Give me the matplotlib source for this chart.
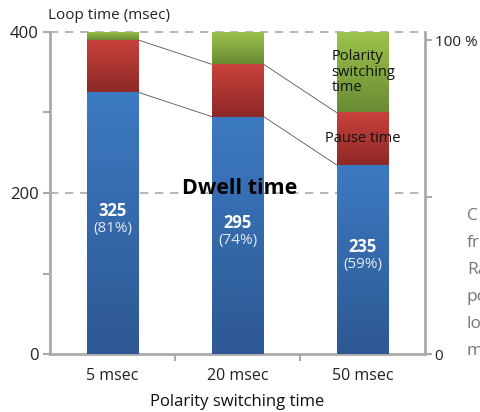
import matplotlib
matplotlib.use("Agg")
import matplotlib.pyplot as plt
import numpy as np
from matplotlib.colors import LinearSegmentedColormap

categories = ["5 msec", "20 msec", "50 msec"]
dwell = [325, 295, 235]
pause = [65, 65, 65]
polarity = [10, 40, 100]
dwell_pct = ["(81%)", "(74%)", "(59%)"]
side_text = ["C", "fr", "Ra", "po", "lo", "m"]

plt.rcParams['font.family'] = ['Open Sans', 'DejaVu Sans']

fig = plt.figure(figsize=(4.8, 4.12), dpi=100)
ax = fig.add_axes([50/480, (412-354)/412, 375/480, 322/412])
x = np.arange(len(categories))
w = 0.416
bottoms2 = [d + p for d, p in zip(dwell, pause)]

grads = [("#3c7ac2", "#2d5893"), ("#ca413c", "#8c2926"), ("#9dc44c", "#698b34")]
series = [(dwell, [0]*3), (pause, dwell), (polarity, bottoms2)]
for (vals, bots), (ctop, cbot) in zip(series, grads):
    bars = ax.bar(x, vals, w, bottom=bots, color="none", edgecolor="none", zorder=3)
    cmap = LinearSegmentedColormap.from_list("g", [cbot, ctop])
    grad = np.linspace(0, 1, 256).reshape(-1, 1)
    for b in bars:
        x0, y0, bw, bh = b.get_x(), b.get_y(), b.get_width(), b.get_height()
        ax.imshow(grad, cmap=cmap, origin="lower", aspect="auto",
                  extent=[x0, x0 + bw, y0, y0 + bh], zorder=3, interpolation="bilinear")

# series lines
for i in range(len(x) - 1):
    for vals in (dwell, bottoms2):
        ax.plot([x[i] + w/2, x[i+1] - w/2], [vals[i], vals[i+1]], color="#555555", lw=0.6, zorder=2)

ax.set_xlim(-0.5, 2.5)
ax.set_ylim(0, 400)
ax.set_yticks([0, 200, 400])
ax.set_yticks([100, 300], minor=True)
ax.set_yticklabels(["0", "200", "400"], fontsize=12, color="#222222")
ax.set_xticks(x)
ax.set_xticklabels(categories, fontsize=11.5, color="#222222")
ax.set_xticks([0.5, 1.5], minor=True)
ax.tick_params(axis="x", which="major", length=0, pad=10)
ax.tick_params(axis="x", which="minor", length=5, width=1.5, color="#aaaaaa")
ax.tick_params(axis="y", which="both", length=5, width=1.5, color="#aaaaaa", pad=3)
for y in (200, 400):
    ax.axhline(y, color="#aaaaaa", lw=1.2, ls=(0, (5, 4)), zorder=1, clip_on=False)
ax.spines["top"].set_visible(False)
ax.spines["right"].set_visible(False)
for s in ("left", "bottom"):
    ax.spines[s].set_color("#aaaaaa")
    ax.spines[s].set_linewidth(2)
ax.set_xlabel("Polarity switching time", fontsize=12, color="#111111", labelpad=7)
ax.text(-0.52, 420, "Loop time (msec)", fontsize=11, color="#222222", ha="left", va="center")

# right axis (100 % corresponds to 390 msec on the left scale)
ax2 = ax.twinx()
ax2.set_ylim(0, 100 * 400 / 390)
ax2.set_yticks([0, 50, 100])
ax2.set_yticklabels(["0", "", "100 %"], fontsize=11, color="#222222")
ax2.tick_params(axis="y", length=5, width=1.5, color="#aaaaaa", pad=2)
for s in ("top", "left", "bottom"):
    ax2.spines[s].set_visible(False)
ax2.spines["right"].set_color("#aaaaaa")
ax2.spines["right"].set_linewidth(2)

for i in range(len(x)):
    c = dwell[i] / 2
    ax.text(x[i], c + 4, str(dwell[i]), ha="center", va="bottom", color="white",
            fontsize=12, fontweight="bold", zorder=5)
    ax.text(x[i], c + 3, dwell_pct[i], ha="center", va="top", color="#e2e9f4",
            fontsize=11, zorder=5)

ax.text(1.02, 205, "Dwell time", ha="center", va="center", fontsize=15.5,
        fontweight="bold", color="black", zorder=6)
ax.text(x[2], dwell[2] + pause[2]/2, "Pause time", ha="center", va="center",
        fontsize=10.5, color="#111111", zorder=6)
ax.text(x[2] - w/2 - 0.04, bottoms2[2] + polarity[2]/2, "Polarity\nswitching\ntime",
        ha="left", va="center", fontsize=10.5, color="#111111", zorder=6, linespacing=1.05)

for k, t in enumerate(side_text):
    fig.text(467/480, 1 - (216 + 27*k)/412, t, fontsize=12.5, color="#777777", ha="left", va="center")

fig.savefig("out.png", dpi=100)
